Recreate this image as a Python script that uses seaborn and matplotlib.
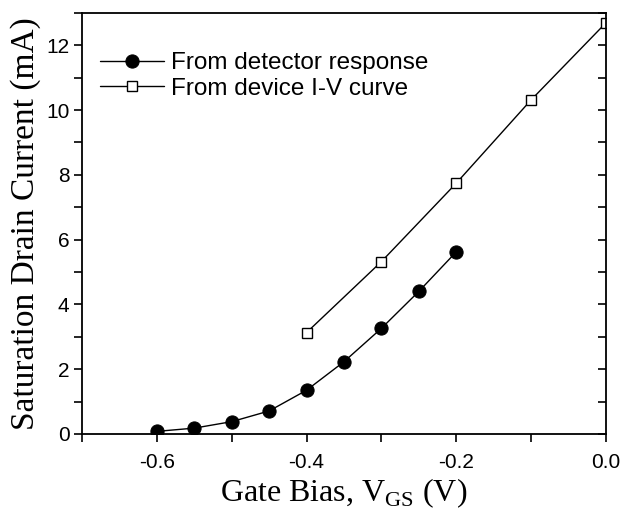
import matplotlib
matplotlib.use("Agg")
import matplotlib.pyplot as plt
import seaborn as sns
import pandas as pd
from matplotlib.ticker import MultipleLocator

# Data
vgs_detector = [-0.60, -0.55, -0.50, -0.45, -0.40, -0.35, -0.30, -0.25, -0.20]
id_detector = [0.08, 0.18, 0.38, 0.71, 1.35, 2.23, 3.26, 4.40, 5.62]
vgs_iv = [-0.40, -0.30, -0.20, -0.10, 0.00]
id_iv = [3.13, 5.32, 7.74, 10.31, 12.69]
label_detector = "From detector response"
label_iv = "From device I-V curve"
xticks = [-0.6, -0.4, -0.2, 0.0]
xtick_labels = ["-0.6", "-0.4", "-0.2", "0.0"]
yticks = [0, 2, 4, 6, 8, 10, 12]

sns.set_theme(style="ticks")
plt.rcParams['font.family'] = ['Liberation Sans', 'DejaVu Sans']
plt.rcParams['text.color'] = 'black'
plt.rcParams['axes.labelcolor'] = 'black'

fig = plt.figure(figsize=(6.22, 5.16), dpi=100)
ax = fig.add_axes([0.132, 0.159, 0.842, 0.816])

df1 = pd.DataFrame({"x": vgs_detector, "y": id_detector})
df2 = pd.DataFrame({"x": vgs_iv, "y": id_iv})

sns.lineplot(data=df1, x="x", y="y", ax=ax, color="black", lw=1.0,
             marker="o", markersize=9.5, markerfacecolor="black",
             markeredgecolor="black", label=label_detector)
sns.lineplot(data=df2, x="x", y="y", ax=ax, color="black", lw=1.0,
             marker="s", markersize=7, markerfacecolor="white",
             markeredgecolor="black", markeredgewidth=1.0, label=label_iv)

ax.set_xlim(-0.7, 0.0)
ax.set_ylim(0, 13)
ax.set_xticks(xticks)
ax.set_xticklabels(xtick_labels)
ax.set_yticks(yticks)
ax.xaxis.set_minor_locator(MultipleLocator(0.1))
ax.yaxis.set_minor_locator(MultipleLocator(1))

for s in ax.spines.values():
    s.set_visible(True)
    s.set_linewidth(1.3)
    s.set_color("black")

ax.tick_params(axis="both", which="both", direction="out", colors="black",
               labelsize=15, width=1.2)
ax.tick_params(axis="both", which="major", length=6)
ax.tick_params(axis="both", which="minor", length=6)
ax.tick_params(axis="x", pad=8)
ax.tick_params(axis="y", pad=3)

ax2 = ax.twinx()
ax2.set_ylim(0, 13)
ax2.set_yticks(yticks)
ax2.yaxis.set_minor_locator(MultipleLocator(1))
ax2.tick_params(axis="y", which="both", direction="in", length=6, width=1.2,
                labelright=False, colors="black")
for s in ax2.spines.values():
    s.set_visible(False)

ax.set_xlabel("Gate Bias, V$_{\\mathregular{GS}}$ (V)", family=["Liberation Serif"],
              fontsize=23, labelpad=3, color="black")
ax.set_ylabel("Saturation Drain Current (mA)", family=["Liberation Serif"],
              fontsize=24, labelpad=4, color="black")

leg = ax.legend(loc="upper left", bbox_to_anchor=(0.0, 0.95), frameon=False,
                fontsize=17.5, handlelength=2.6, handletextpad=0.3,
                labelspacing=0.15, borderaxespad=0.35)
for t in leg.get_texts():
    t.set_color("black")

fig.savefig("out.png", dpi=100)
